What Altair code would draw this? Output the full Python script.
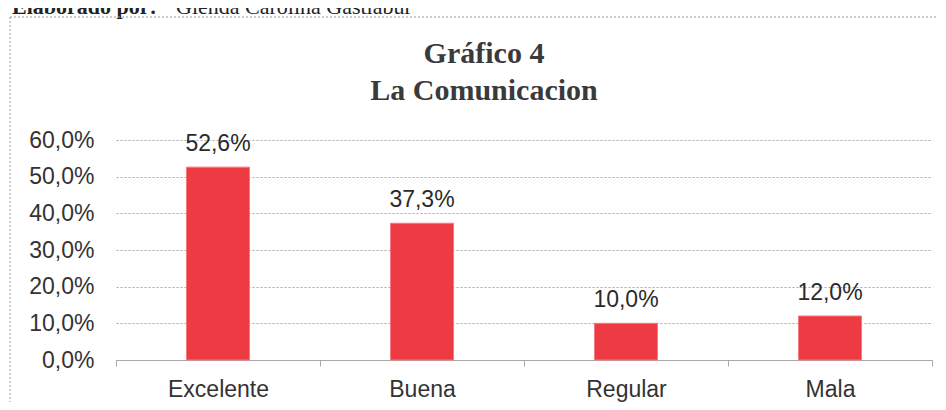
import altair as alt
import pandas as pd

categories = ["Excelente", "Buena", "Regular", "Mala"]
values = [0.526, 0.373, 0.100, 0.120]
y_ticks = [0.0, 0.1, 0.2, 0.3, 0.4, 0.5, 0.6]
title_text = "Gráfico 4\nLa Comunicacion"
header_bold = "Elaborado por:"
header_regular = "Glenda Carolina Gastiabur"

df = pd.DataFrame({"cat": categories, "val": values})

SANS = "Liberation Sans"
SERIF = "Liberation Serif"

base = alt.Chart(df)

x_enc = alt.X(
    "cat:N",
    sort=categories,
    scale=alt.Scale(paddingInner=0, paddingOuter=0),
    axis=alt.Axis(
        title=None, labelAngle=0, labelFont=SANS, labelFontSize=23,
        labelColor="#333333", labelPadding=12, tickBand="extent",
        ticks=True, tickSize=6, tickColor="#aaaaaa", domainColor="#aaaaaa",
        grid=False,
    ),
)
y_enc = alt.Y(
    "val:Q",
    scale=alt.Scale(domain=[0, 0.6], nice=False),
    axis=alt.Axis(
        title=None, values=y_ticks, labelOverlap=False,
        labelFont=SANS, labelFontSize=23,
        labelColor="#333333", labelPadding=22, ticks=False, domain=False,
        grid=True, gridColor="#aaaaaa", gridDash=[2, 2], gridWidth=1,
        labelExpr="replace(format(datum.value, '.1%'), '.', ',')",
    ),
)

bars = base.mark_bar(size=63, color="#ee3b43", stroke="#f37a7e", strokeWidth=1).encode(
    x=x_enc, y=y_enc
)

labels = base.transform_calculate(
    lab="replace(format(datum.val, '.1%'), '.', ',')"
).mark_text(
    font=SANS, fontSize=23, color="#2a2a2a", baseline="alphabetic", dy=-16
).encode(x=x_enc, y=y_enc, text="lab:N")

hdr = pd.DataFrame({"t": [header_bold], "r": [header_regular], "title": [title_text]})
header1 = alt.Chart(hdr).mark_text(
    font=SERIF, fontSize=22, fontWeight="bold", color="#222222",
    align="left", baseline="alphabetic",
).encode(x=alt.value(-104), y=alt.value(-126), text="t:N")
header2 = alt.Chart(hdr).mark_text(
    font=SERIF, fontSize=22, color="#222222",
    align="left", baseline="alphabetic",
).encode(x=alt.value(60), y=alt.value(-126), text="r:N")

title = alt.Chart(hdr).mark_text(
    font=SERIF, fontSize=30, fontWeight="bold", color="#3a3a3a",
    align="center", baseline="alphabetic", lineBreak="\n", lineHeight=37,
).encode(x=alt.value(368), y=alt.value(-77), text="title:N")

border_top = alt.Chart(hdr).mark_rule(color="#999999", strokeDash=[2, 2]).encode(
    x=alt.value(-106), x2=alt.value(830), y=alt.value(-123)
)
border_left = alt.Chart(hdr).mark_rule(color="#999999", strokeDash=[2, 2]).encode(
    x=alt.value(-106), y=alt.value(-123), y2=alt.value(270)
)

chart = alt.layer(bars, labels, title, header1, header2, border_top, border_left).properties(
    width=816,
    height=220,
    autosize=alt.AutoSizeParams(type="none"),
    padding={"left": 108, "top": 132, "right": 6, "bottom": 42},
).configure_view(stroke=None)

chart.save("out.html", embed_options={"renderer": "svg", "actions": False})
